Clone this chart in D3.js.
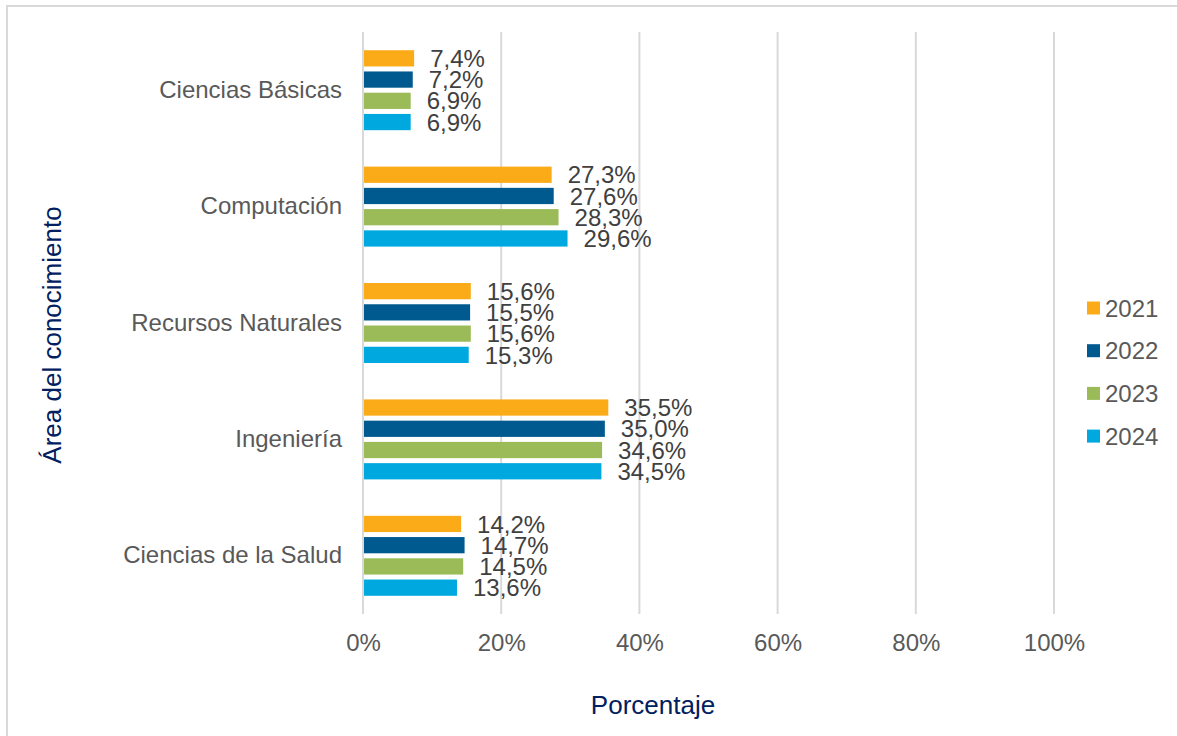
<!DOCTYPE html>
<html><head><meta charset="utf-8">
<script src="https://cdn.jsdelivr.net/npm/d3@7"></script>
<style>body{margin:0;background:#fff;}svg{display:block;font-family:"Liberation Sans",Arial,sans-serif;}</style>
</head><body>
<svg id="c" width="1177" height="736"></svg>
<script>
const categories = ["Ciencias Básicas","Computación","Recursos Naturales","Ingeniería","Ciencias de la Salud"];
const seriesNames = ["2021","2022","2023","2024"];
const v2021 = [7.4, 27.3, 15.6, 35.5, 14.2];
const v2022 = [7.2, 27.6, 15.5, 35.0, 14.7];
const v2023 = [6.9, 28.3, 15.6, 34.6, 14.5];
const v2024 = [6.9, 29.6, 15.3, 34.5, 13.6];
const colors = ["#FBAB18","#005A8F","#9BBB59","#00A8E0"];
const xTicks = [0,20,40,60,80,100];
const seriesValues = [v2021, v2022, v2023, v2024];

const svg = d3.select("#c");
// outer border
svg.append("rect").attr("x",7).attr("y",6).attr("width",1200).attr("height",760)
  .attr("fill","none").attr("stroke","#D9D9D9").attr("stroke-width",2);

const x = d3.scaleLinear().domain([0,100]).range([363,1054]);
const y = d3.scaleBand().domain(categories).range([32,614]).paddingInner(0.27).paddingOuter(0.135);
const yS = d3.scaleBand().domain(seriesNames).range([0,y.bandwidth()]).padding(0);

// gridlines
svg.append("g").selectAll("line").data(xTicks).join("line")
  .attr("x1",d=>x(d)).attr("x2",d=>x(d)).attr("y1",32).attr("y2",614)
  .attr("stroke","#D9D9D9").attr("stroke-width",2);

// x axis labels
const xAxis = d3.axisBottom(x).tickValues(xTicks).tickFormat(d=>d+"%").tickSize(0).tickPadding(0);
const gx = svg.append("g").attr("transform","translate(0,634)").call(xAxis);
gx.select(".domain").remove();
gx.selectAll("text").attr("font-size",24).attr("fill","#595959").attr("font-family","Liberation Sans, Arial, sans-serif").attr("dy","0.71em");

// y axis labels
const yAxis = d3.axisLeft(y).tickSize(0).tickPadding(21);
const gy = svg.append("g").attr("transform","translate(363,0)").call(yAxis);
gy.select(".domain").remove();
gy.selectAll("text").attr("font-size",24).attr("fill","#595959").attr("font-family","Liberation Sans, Arial, sans-serif");

// bars
seriesNames.forEach((s,si)=>{
  const g = svg.append("g");
  const data = categories.map((c,i)=>({c, v: seriesValues[si][i]}));
  g.selectAll("rect").data(data).join("rect")
    .attr("x",x(0)+1)
    .attr("y",d=>y(d.c)+yS(s)+2.5)
    .attr("width",d=>x(d.v)-x(0)-1)
    .attr("height",yS.bandwidth()-5)
    .attr("fill",colors[si]);
  g.selectAll("text").data(data).join("text")
    .attr("x",d=>x(d.v)+16)
    .attr("y",d=>y(d.c)+yS(s)+yS.bandwidth()/2)
    .attr("dy","0.36em")
    .attr("font-size",24).attr("fill","#404040")
    .text(d=>d.v.toFixed(1).replace(".",",")+"%");
});

// legend
const lg = svg.append("g");
seriesNames.forEach((s,i)=>{
  const yy = 308 + i*42.7;
  lg.append("rect").attr("x",1087).attr("y",yy-6.5).attr("width",13).attr("height",13).attr("fill",colors[i]);
  lg.append("text").attr("x",1105).attr("y",yy).attr("dy","0.36em").attr("font-size",24).attr("fill","#595959").text(s);
});

// axis titles
svg.append("text").attr("x",653).attr("y",705).attr("dy","0.36em").attr("text-anchor","middle")
  .attr("font-size",26).attr("fill","#002060").text("Porcentaje");
svg.append("text").attr("transform","translate(52,335) rotate(-90)").attr("dy","0.36em").attr("text-anchor","middle")
  .attr("font-size",26).attr("fill","#002060").text("Área del conocimiento");
</script>
</body></html>
